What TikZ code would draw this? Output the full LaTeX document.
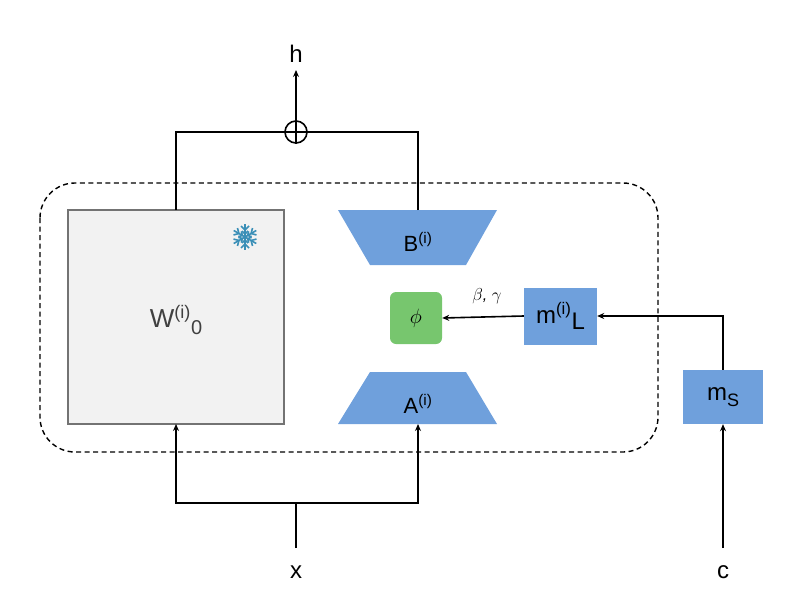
\documentclass[tikz,border=0pt]{standalone}
\usepackage{fontspec}
\setmainfont{Liberation Sans}
\usetikzlibrary{arrows.meta}
\definecolor{bl}{HTML}{6FA0DC}
\definecolor{gr}{HTML}{77C66E}
\definecolor{sn}{HTML}{3A8FB7}
\begin{document}
\begin{tikzpicture}[x=1pt,y=-1pt,
  line/.style={line width=1.6pt},
  arr/.style={line width=1.6pt,-{Stealth[length=7pt,width=6pt]}},
  lab/.style={font=\fontsize{22}{24}\selectfont}]
\useasboundingbox (0,0) rectangle (800,610);
\draw[line width=1.4pt,dash pattern=on 5pt off 3.5pt,rounded corners=35pt] (40,183) rectangle (658,452);
\node[draw=black!55,fill=black!5,line width=1.8pt,minimum width=216pt,minimum height=214pt,inner sep=0] (W) at (176,317) {};
\node[font=\fontsize{26}{28}\selectfont,text=black!75] (Wt) at (176,320) {W\textsuperscript{(i)}\raisebox{-0.45ex}{\fontsize{20}{22}\selectfont 0}};
% snowflake
\begin{scope}[shift={(245,237)},sn,line width=1.6pt]
\foreach \a in {0,60,...,300}{
  \draw[rotate=\a] (0,0) -- (0,-13);
  \draw[rotate=\a] (-4,-11) -- (0,-7) -- (4,-11);
  \draw[rotate=\a] (-3,-6) -- (0,-3) -- (3,-6);
}
\end{scope}
% B
\fill[bl] (338,210) -- (497,210) -- (466,265) -- (370,265) -- cycle;
\node[lab] (B) at (418,242) {B\textsuperscript{(i)}};
\coordinate (Btop) at (418,210);
% A
\fill[bl] (370,372) -- (466,372) -- (497,424) -- (338,424) -- cycle;
\node[lab] (A) at (418,404) {A\textsuperscript{(i)}};
\coordinate (Abot) at (418,424);
% phi
\node[fill=gr,rounded corners=6pt,minimum width=52pt,minimum height=52pt,inner sep=0,font=\fontsize{22}{24}\selectfont] (phi) at (416,318) {$\phi$};
% mL
\node[fill=bl,minimum width=73pt,minimum height=57pt,inner sep=0,font=\fontsize{24}{26}\selectfont] (mL) at (560.5,316) {m\textsuperscript{(i)}\raisebox{-0.5ex}{L}};
% mS
\node[fill=bl,minimum width=80pt,minimum height=54pt,inner sep=0,font=\fontsize{24}{26}\selectfont] (mS) at (723,397) {m\raisebox{-0.5ex}{\fontsize{18}{20}\selectfont S}};
% plus
\node[draw,circle,line width=1.6pt,minimum size=22pt,inner sep=0] (plus) at (296,132) {};
\draw[line width=1.6pt] (plus.north) -- (plus.south) (plus.west) -- (plus.east);
\node[font=\fontsize{24}{26}\selectfont] (h) at (296,54) {h};
\node[font=\fontsize{24}{26}\selectfont] (x) at (296,572) {x};
\node[font=\fontsize{24}{26}\selectfont] (c) at (723,572) {c};
\coordinate (Wtop) at (176,210);
\coordinate (Wbot) at (176,424);
\coordinate (split) at (296,503);
\draw[arr] (plus.north) -- (296,70);
\draw[line] (Wtop) |- (plus.west);
\draw[line] (Btop) |- (plus.east);
\draw[line] (296,548) -- (split);
\draw[arr] (split) -| (Wbot);
\draw[arr] (split) -| (Abot);
\draw[arr] (723,548) -- (mS.south);
\draw[arr] (mS.north) |- (mL.east);
\draw[arr] (mL.west) -- (phi.east);
\node[font=\itshape\fontsize{16}{18}\selectfont] (bg) at (487,296) {$\beta$, $\gamma$};
\end{tikzpicture}
\end{document}
